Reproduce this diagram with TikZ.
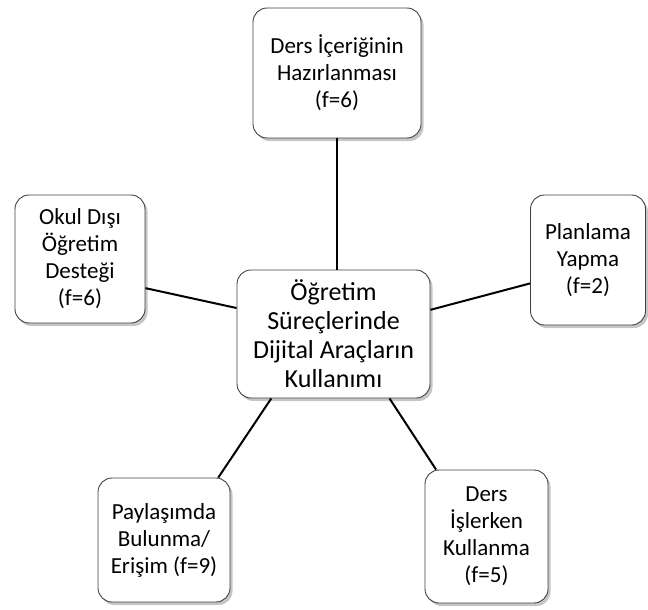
\documentclass[tikz,border=0pt]{standalone}
\usepackage{fontspec}
\setmainfont{Carlito}
\usetikzlibrary{positioning, shapes, shadows}

\tikzset{
  kutu/.style={draw=black!75, line width=0.9pt, rounded corners=14pt, fill=white,
    align=center, text=black, font=\fontsize{23}{27}\selectfont, inner sep=2pt,
    drop shadow={opacity=0.45, shadow xshift=2.5pt, shadow yshift=-3pt}},
  baglanti/.style={line width=2pt, black}
}

\begin{document}
\begin{tikzpicture}[x=1pt, y=-1pt]
\useasboundingbox (0,0) rectangle (648,610);
% merkez
\node[kutu, minimum width=193pt, minimum height=128pt, font=\fontsize{26}{29}\selectfont] (merkez) at (333.5,334)
  {Öğretim\\Süreçlerinde\\Dijital Araçların\\Kullanımı};
% dis kutular
\node[kutu, minimum width=168pt, minimum height=130pt] (hazir) at (337,73) {Ders İçeriğinin\\Hazırlanması\\(f=6)};
\node[kutu, minimum width=130pt, minimum height=128pt] (okul) at (80,259) {Okul Dışı\\Öğretim\\Desteği\\(f=6)};
\node[kutu, minimum width=115pt, minimum height=130pt] (plan) at (588,260) {Planlama\\Yapma\\(f=2)};
\node[kutu, minimum width=132pt, minimum height=124pt] (paylas) at (164,540) {Paylaşımda\\Bulunma/\\Erişim (f=9)};
\node[kutu, minimum width=123pt, minimum height=133pt] (dersis) at (486.5,536.5) {Ders\\İşlerken\\Kullanma\\(f=5)};

\draw[baglanti] (hazir.south) -- (hazir.south |- merkez.north);
\draw[baglanti] (okul.-24) -- (merkez.165);
\draw[baglanti] (merkez.14) -- (plan.202);
\draw[baglanti] (merkez.226) -- (paylas.49);
\draw[baglanti] (merkez.311) -- (dersis.127);
\end{tikzpicture}
\end{document}
